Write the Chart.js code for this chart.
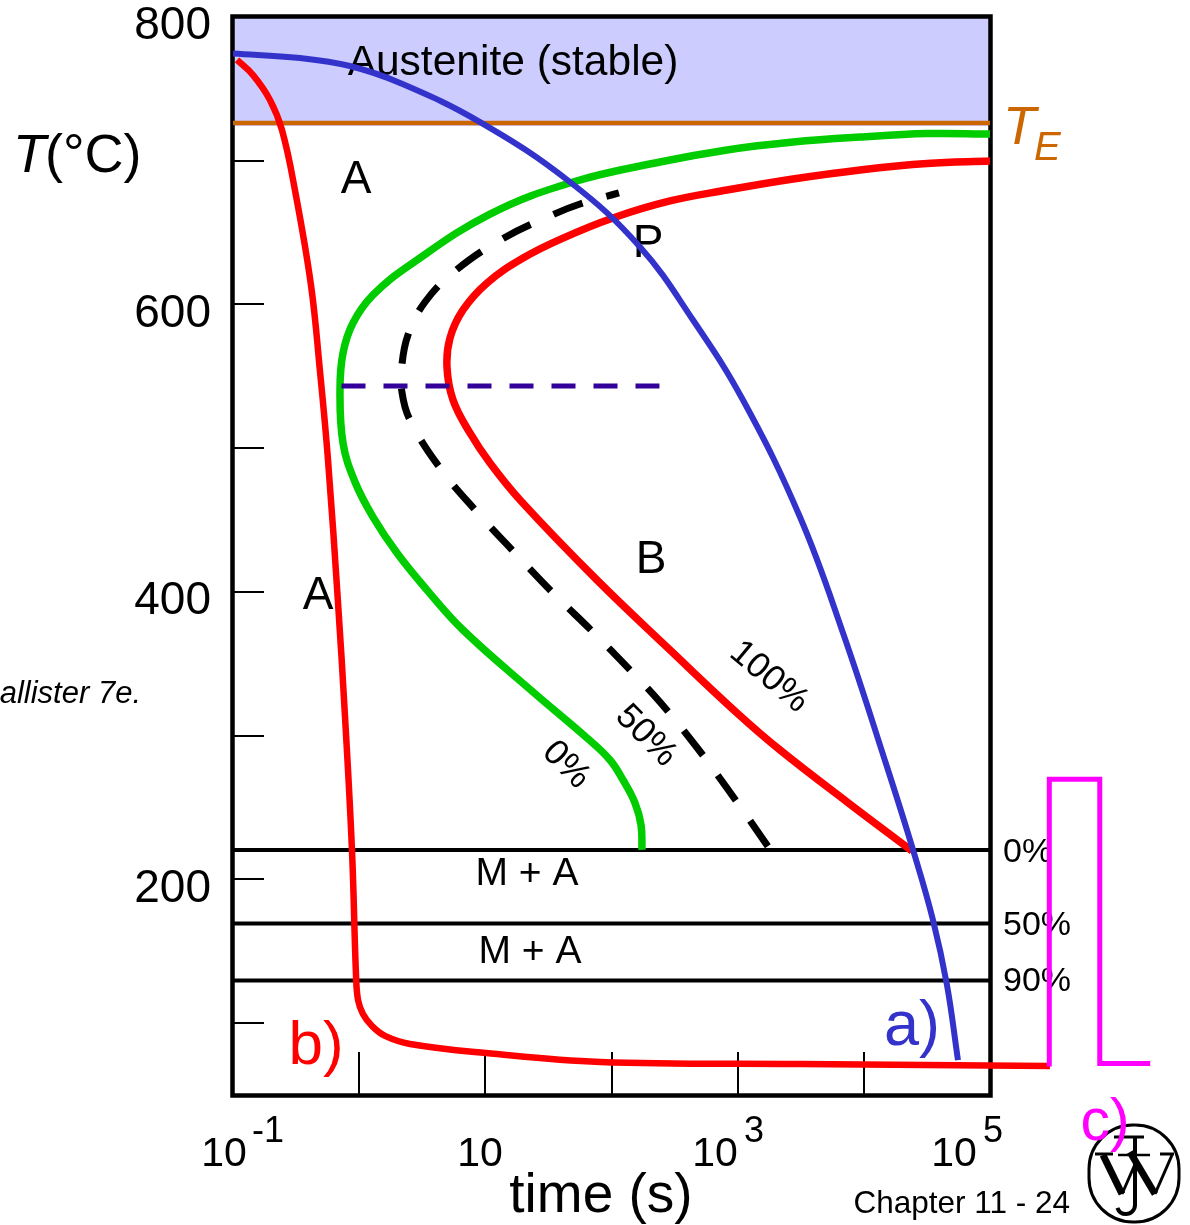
<!DOCTYPE html>
<html><head><meta charset="utf-8">
<style>html,body{margin:0;padding:0;background:#fff}canvas{display:block}</style>
<script src="https://cdn.jsdelivr.net/npm/chart.js@4"></script></head>
<body><div style="width:1190px;height:1225px"><canvas id="c" width="1190" height="1225"></canvas></div>
<script>
// log10(time in s) and temperature in °C for each curve
const coolALog=[-1,-0.469,-0.073,0.324,0.958,1.671,2.226,2.646,3.042,3.494,3.835,4.184,4.390,4.548,4.659,4.746];
const coolAT=[774.6,771.5,765.9,754.1,726.9,685.2,640,589.2,533.5,452.1,371.4,278.2,220.5,171.8,126.5,74.3];
const coolBLog=[-0.968,-0.841,-0.707,-0.612,-0.509,-0.382,-0.310,-0.247,-0.168,-0.112,-0.057,-0.025,-0.009,0.030,0.102,0.205,0.403,1.005,1.909,3.494,5.475];
const coolBT=[770.1,759.6,742.3,721.4,679.6,613.5,553,491.8,393,313,220.5,133.5,116.1,106.4,98,91.1,85.5,79.2,73,71.6,70.2];
const start0Log=[5,4.501,3.970,3.439,2.915,2.384,1.695,1.037,0.403,0.110,-0.049,-0.128,-0.152,-0.128,-0.033,0.110,0.300,0.538,0.823,1.378,1.806,1.988,2.091,2.186,2.234,2.242];
const start0T=[718.6,718.9,716.5,713,707.5,699.1,685.2,662.9,627.5,606.6,587.1,566.2,540.5,503.6,476.5,452.1,427.1,401.3,373.5,330.4,298.4,283.1,269.2,253.2,237.9,220.5];
const mid50Log=[2.059,1.750,1.528,1.132,0.760,0.522,0.387,0.339,0.339,0.403,0.641,0.934,1.235,1.536,1.853,2.162,2.384,2.662,2.915,3.177,3.264];
const mid50T=[677.6,669.9,662.2,645.5,623.3,601.7,578.8,557.9,539.1,519.6,486.2,455.6,427.1,399.3,372.1,344.3,323.4,293.5,263.6,230.9,219.8];
const end100Log=[5,4.501,3.970,3.439,2.915,2.464,2.012,1.616,1.299,1.013,0.823,0.720,0.696,0.744,0.878,1.037,1.275,1.885,2.464,2.995,3.336,3.867,4.382];
const end100T=[699.8,698.1,693.6,687.3,679.6,672,660.2,646.2,632.3,614.9,596.2,576.7,556.5,533.5,510.6,489.7,464,408.3,359.6,315.8,290,253.9,219.8];
const isoLog=[-0.14,2.38];
const isoT=[543.3,543.3];
const cycleCLog=[6.27,5.87,5.87,5.47,5.47];
const cycleCT=[71.9,71.9,269.6,269.6,69.9];
const axisSpanLog=[-1,5];
const eutectoidT=726.2;
const austeniteLowT=724.1;
const martensiteT=[220.4,169.4,129.7];
const tempTicks=[700,600,500,400,300,200,100];
const tempLabels=[800,600,400,200];
const timeTicks=[1,10,100,1000,10000];
const toSet=(l,t)=>l.map((e,i)=>({x:10**e,y:t[i]}));
const flat=t=>axisSpanLog.map(e=>({x:10**e,y:t}));
const FONT='"Liberation Sans"';
const curve=(d,c,w,extra)=>Object.assign({data:d,borderColor:c,borderWidth:w,pointRadius:0,showLine:true,tension:0.4,fill:false,borderCapStyle:'butt'},extra||{});
const datasets=[
 curve(toSet(cycleCLog,cycleCT),'#ff00ff',5,{tension:0,clip:false,borderJoinStyle:'miter'}),
 curve(toSet(coolALog,coolAT),'#3333cc',6),
 curve(toSet(coolBLog,coolBT),'#ff0000',6.5,{clip:false}),
 curve(toSet(isoLog,isoT),'#330099',5,{tension:0,borderDash:[24,18]}),
 curve(toSet(end100Log,end100T),'#ff0000',7.5),
 curve(toSet(start0Log,start0T),'#00cc00',7.5),
 curve(toSet(mid50Log,mid50T),'#000000',7,{borderDash:[31,25],borderDashOffset:18}),
 curve(flat(eutectoidT),'#cc6600',4.5,{tension:0}),
 curve(flat(martensiteT[0]),'#000000',4,{tension:0}),
 curve(flat(martensiteT[1]),'#000000',4,{tension:0}),
 curve(flat(martensiteT[2]),'#000000',4,{tension:0}),
 curve(flat(austeniteLowT),'rgba(0,0,0,0)',0,{tension:0,fill:'end',backgroundColor:'#ccccff'})
];
const notes=[
 ['Austenite (stable)',513,63,42.5,'#000','center'],
 ['A',356,180,46,'#000','center'],['A',318,596,46,'#000','center'],
 ['P',648,244,46,'#000','center'],['B',651,560,46,'#000','center'],
 ['M + A',527,874,39,'#000','center'],['M + A',530,952,39,'#000','center'],
 ['0%',1003,853,34,'#000','left'],['50%',1003,926,34,'#000','left'],['90%',1003,982,34,'#000','left'],
 ['a)',912,1028,63,'#3333cc','center'],['b)',316,1047,62,'#ff0000','center'],
 ['Chapter 11 - 24',1070,1204,31.5,'#000','right'],
 ['time (s)',601,1197,55,'#000','center']
];
const angled=[['100%',769,677,35.5,40],['50%',646,736,35.5,45],['0%',566,765,35.5,45]];
const decade=[['10',224,null],['10',480,null],['10',715,'3'],['10',954,'5']];
function text(ctx,s,x,y,size,color,align,style,base){
 ctx.font=(style?style+' ':'')+size+'px '+FONT;ctx.fillStyle=color;ctx.textAlign=align||'left';ctx.textBaseline=base||'middle';ctx.fillText(s,x,y);
}
function seg(ctx,pts,w){ctx.lineWidth=w;ctx.beginPath();pts.forEach((p,i)=>i?ctx.lineTo(p[0],p[1]):ctx.moveTo(p[0],p[1]));ctx.stroke();}
const overlay={id:'overlay',
 afterDatasetDraw(chart,args){
  if(args.index!==datasets.length-1)return;
  const ctx=chart.ctx,a=chart.chartArea,sx=chart.scales.x,sy=chart.scales.y;
  ctx.save();ctx.strokeStyle='#000';ctx.lineCap='butt';
  ctx.lineWidth=4.5;ctx.strokeRect(a.left-0.5,a.top-0.5,a.right-a.left+1,a.bottom-a.top+1);
  tempTicks.forEach(t=>{const y=Math.round(sy.getPixelForValue(t));seg(ctx,[[a.left,y],[a.left+31,y]],2);});
  timeTicks.forEach(t=>{const x=Math.round(sx.getPixelForValue(t));seg(ctx,[[x,a.bottom],[x,a.bottom-43]],2);});
  notes.forEach(n=>text(ctx,n[0],n[1],n[2],n[3],n[4],n[5]));
  angled.forEach(n=>{ctx.save();ctx.translate(n[1],n[2]);ctx.rotate(n[4]*Math.PI/180);text(ctx,n[0],0,0,n[3],'#000','center');ctx.restore();});
  decade.forEach(d=>{text(ctx,d[0],d[1],1166,41,'#000','center','','alphabetic');if(d[2])text(ctx,d[2],d[1]+39,1142,36,'#000','center','','alphabetic');});
  text(ctx,'-1',268,1142,36,'#000','center','','alphabetic');
  text(ctx,'T',13,157,54,'#000','left','italic');
  text(ctx,'(°C)',45,157,54,'#000','left');
  text(ctx,'T',1003,129,54,'#cc6600','left','italic');
  text(ctx,'E',1034,149,40,'#cc6600','left','italic');
  text(ctx,'Callister 7e.',141,694,31,'#000','right','italic');
  // publisher mark
  ctx.lineWidth=3;ctx.beginPath();ctx.roundRect(1089,1125,90,97,44);ctx.stroke();
  seg(ctx,[[1103,1155],[1122,1194]],7);seg(ctx,[[1122,1194],[1136,1162]],3);
  seg(ctx,[[1130,1152],[1155,1194]],7);seg(ctx,[[1155,1194],[1172,1155]],3);
  seg(ctx,[[1095,1154],[1113,1154]],3);seg(ctx,[[1160,1154],[1174,1154]],3);
  seg(ctx,[[1118,1155],[1150,1155]],2.5);
  seg(ctx,[[1114,1137],[1144,1137]],3);seg(ctx,[[1135,1137],[1135,1205]],4);
  ctx.lineWidth=4;ctx.beginPath();ctx.arc(1126,1205,9,0,Math.PI*0.9);ctx.stroke();
  ctx.restore();
 },
 afterDraw(chart){text(chart.ctx,'c)',1105,1124,59,'#ff00ff','center');}
};
new Chart(document.getElementById('c'),{type:'scatter',data:{datasets},plugins:[overlay],options:{
 responsive:false,animation:false,events:[],
 layout:{padding:{left:0,top:17,right:200,bottom:130}},
 plugins:{legend:{display:false},tooltip:{enabled:false},title:{display:false}},
 scales:{
  x:{type:'logarithmic',min:0.1,max:100000,grid:{display:false},border:{display:false},ticks:{display:false},
     afterFit(s){s.height=0;s.paddingLeft=0;s.paddingRight=0;}},
  y:{type:'linear',min:50,max:800,grid:{display:false},border:{display:false},
     ticks:{stepSize:100,autoSkip:false,padding:14,labelOffset:9.5,color:'#000',font:{family:FONT,size:46},
       callback:v=>tempLabels.includes(v)?String(v):''},
     afterFit(s){s.width=233;s.paddingTop=0;s.paddingBottom=0;}}
 }
}});
</script></body></html>
